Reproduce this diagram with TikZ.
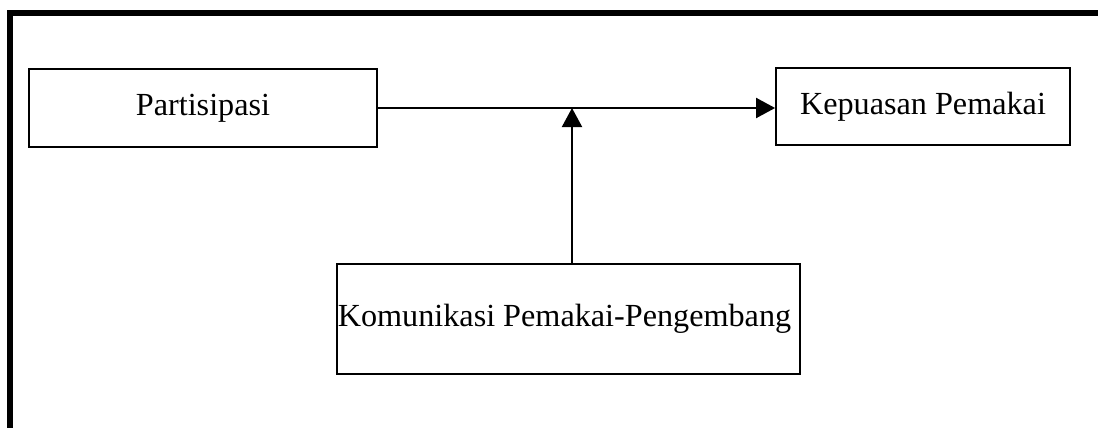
\documentclass[tikz,border=0pt]{standalone}
\usepackage{fontspec}
\setmainfont{Liberation Serif}
\usetikzlibrary{arrows.meta}
\tikzset{
  box/.style={draw, line width=1.8pt, inner sep=0pt, font=\fontsize{32.2}{38}\selectfont},
  conn/.style={line width=2pt, -{Triangle[length=19pt,width=20pt]}},
  frameline/.style={line width=6pt}
}
\begin{document}
\begin{tikzpicture}[x=1pt,y=-1pt]
\useasboundingbox (0,0) rectangle (1098,428);
\draw[frameline] (10,428) -- (10,13) -- (1098,13);
\node[box, minimum width=348pt, minimum height=78pt] (part) at (203,108) {Partisipasi};
\node[box, minimum width=294pt, minimum height=77pt] (kep) at (923,106.5) {Kepuasan Pemakai};
\node[box, minimum width=463pt, minimum height=110pt] (kom) at (568.5,319) {\hspace*{-8pt}\raisebox{-3pt}{Komunikasi Pemakai-Pengembang}};
\coordinate (m) at (572,108);
\draw[conn] (part.east |- m) -- (kep.west |- m);
\draw[conn] (m |- kom.north) -- (m);
\end{tikzpicture}
\end{document}
